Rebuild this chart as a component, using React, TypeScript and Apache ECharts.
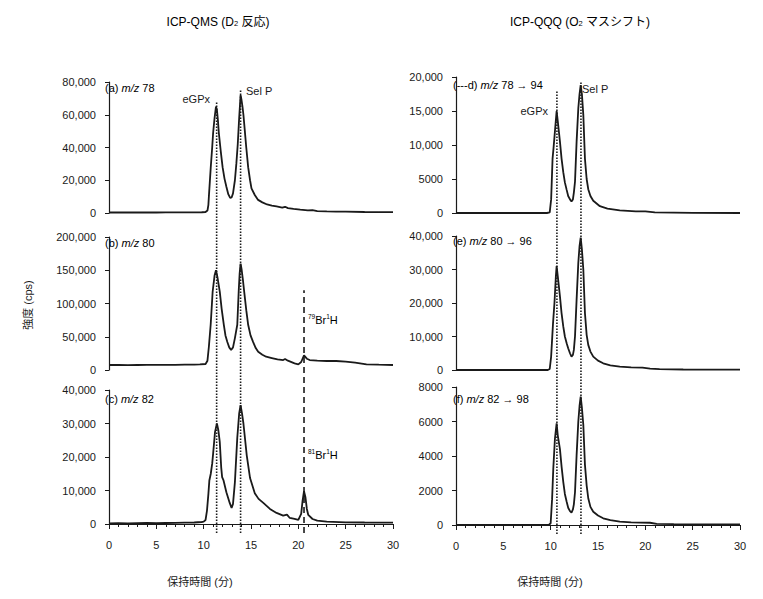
import React, { useEffect, useRef } from "react";
import * as echarts from "echarts";

// ---------- DATA (retention time [min], intensity [cps]) ----------
const qms78: number[][] = [
  [0, 300], [1, 350], [2, 300], [3, 350], [4, 320], [5, 300], [6, 350], [7, 330], [8, 380], [9, 400], [9.8, 450],
  [10.2, 600], [10.4, 1500], [10.5, 5000], [10.55, 10000], [10.65, 19000], [10.75, 28000], [10.9, 40000], [11.0, 49000],
  [11.15, 58000], [11.3, 65000], [11.4, 63000], [11.5, 57000], [11.6, 49000], [11.8, 38000], [12.0, 28000], [12.2, 21000],
  [12.4, 16000], [12.6, 11500], [12.8, 9200], [12.95, 9500], [13.1, 12000], [13.3, 20000], [13.45, 30000], [13.6, 42000],
  [13.75, 58000], [13.9, 72000], [14.0, 69000], [14.1, 65000], [14.2, 60000], [14.35, 50000], [14.5, 40000], [14.7, 28000],
  [14.9, 20000], [15.05, 15000], [15.4, 11000], [15.75, 8000], [16.2, 6500], [16.7, 5200], [17.2, 4500], [17.7, 4000],
  [18.3, 3300], [18.6, 3800], [18.9, 3000], [19.5, 2500], [20.2, 2000], [21, 1600], [21.5, 1700], [22, 1200], [23, 1000],
  [24, 900], [25, 800], [27, 600], [28.5, 550], [30, 500],
];
const qms80: number[][] = [
  [0, 7500], [1, 7600], [2, 7400], [3, 7500], [4, 7600], [5, 7700], [6, 7600], [7, 7800], [8, 8000], [9, 8200], [9.6, 8500],
  [10.2, 9000], [10.4, 14000], [10.55, 35000], [10.74, 68000], [10.95, 118000], [11.15, 142000], [11.3, 150000],
  [11.45, 140000], [11.7, 118000], [11.9, 92000], [12.13, 68000], [12.3, 52000], [12.5, 42000], [12.7, 34000], [12.9, 30000],
  [13.1, 34000], [13.3, 48000], [13.55, 68000], [13.7, 118000], [13.8, 145000], [13.9, 160000], [14.0, 152000],
  [14.15, 135000], [14.28, 118000], [14.5, 90000], [14.7, 68000], [14.95, 52000], [15.23, 42000], [15.5, 33000],
  [15.76, 27500], [16.2, 23000], [16.6, 20000], [17.2, 18000], [17.8, 16000], [18.4, 15000], [18.6, 16500], [18.9, 14000],
  [19.6, 10000], [20.0, 8500], [20.3, 12000], [20.6, 22000], [20.9, 17000], [21.2, 15000], [22, 14000], [23, 13500],
  [24, 13500], [25, 12500], [26, 11000], [27.2, 8500], [28.5, 8000], [30, 7500],
];
const qms82: number[][] = [
  [0, 200], [1, 250], [2, 200], [3, 250], [4, 300], [5, 250], [6, 300], [7, 350], [8, 400], [9, 450], [9.8, 600], [10.0, 700],
  [10.2, 1200], [10.35, 4000], [10.5, 9000], [10.6, 13000], [10.75, 15000], [10.9, 18000], [11.0, 21000], [11.2, 27500],
  [11.4, 30000], [11.55, 28000], [11.7, 24500], [11.85, 17000], [11.95, 14000], [12.1, 13000], [12.4, 9500], [12.75, 6300],
  [12.95, 4800], [13.1, 6000], [13.3, 12500], [13.55, 25700], [13.75, 33000], [13.9, 35500], [14.05, 33000], [14.2, 30000],
  [14.55, 20500], [14.9, 13700], [15.4, 9200], [15.8, 7500], [16.3, 6300], [17.0, 4500], [17.7, 3300], [18.4, 2500],
  [18.8, 2800], [19.1, 1800], [19.6, 1500], [20.0, 1200], [20.3, 3000], [20.45, 7000], [20.6, 9800], [20.75, 8000],
  [20.9, 4500], [21.05, 2700], [21.5, 1500], [22, 1000], [23, 700], [25, 500], [27, 450], [30, 400],
];
const qqq78to94: number[][] = [
  [0, 0], [2, 0], [4, 0], [6, 0], [8, 0], [9.6, 0], [9.9, 100], [10.05, 2000], [10.2, 8000], [10.3, 9500], [10.45, 12000],
  [10.63, 15000], [10.75, 13500], [10.98, 10500], [11.15, 8000], [11.33, 6000], [11.5, 4500], [11.69, 3400], [11.85, 2500],
  [12.04, 2000], [12.2, 1700], [12.35, 2000], [12.45, 3000], [12.57, 4600], [12.74, 10500], [12.92, 15400], [13.05, 17500],
  [13.17, 18800], [13.3, 17500], [13.45, 14400], [13.62, 8000], [13.8, 5000], [13.97, 3500], [14.2, 2500], [14.5, 1800],
  [15.2, 1000], [16, 650], [17.3, 400], [19, 250], [20, 250], [21, 100], [25, 30], [30, 0],
];
const qqq80to96: number[][] = [
  [0, 0], [3, 0], [6, 0], [9, 0], [9.7, 0], [9.9, 300], [10.05, 4000], [10.25, 14000], [10.4, 20000], [10.55, 28000],
  [10.63, 31000], [10.75, 28000], [10.98, 22000], [11.15, 17000], [11.33, 13000], [11.5, 10000], [11.69, 8000],
  [11.85, 6500], [12.04, 5000], [12.2, 4000], [12.35, 4500], [12.45, 6000], [12.57, 10000], [12.74, 21000], [12.92, 32000],
  [13.05, 37000], [13.17, 39500], [13.3, 36000], [13.45, 30000], [13.62, 17000], [13.8, 10500], [13.97, 7500], [14.2, 5500],
  [14.5, 4000], [15.0, 2800], [15.55, 2000], [16.3, 1400], [17.3, 1000], [18.5, 800], [19.7, 700], [20.5, 400],
  [21.5, 250], [24, 150], [27, 100], [30, 100],
];
const qqq82to98: number[][] = [
  [0, 0], [3, 0], [6, 0], [9, 0], [9.8, 0], [10.0, 100], [10.15, 1500], [10.28, 3300], [10.45, 5000], [10.55, 5500],
  [10.63, 5900], [10.75, 5200], [10.98, 4400], [11.15, 3400], [11.33, 2500], [11.5, 1800], [11.69, 1350], [11.85, 1000],
  [12.04, 800], [12.2, 720], [12.35, 900], [12.45, 1200], [12.57, 1900], [12.74, 4050], [12.92, 6000], [13.05, 6900],
  [13.17, 7450], [13.3, 6800], [13.45, 5800], [13.62, 3500], [13.8, 2300], [13.97, 1550], [14.2, 1050], [14.5, 770],
  [15.0, 550], [15.55, 390], [16.3, 280], [17.3, 190], [18.5, 150], [19.5, 140], [20.5, 130], [21.2, 70], [23, 50],
  [26, 40], [30, 40],
];

// y-axis maxima / steps per panel
const yMax = [80000, 200000, 40000, 20000, 40000, 8000];
const yStep = [20000, 50000, 10000, 5000, 10000, 2000];
const xTicks = [0, 5, 10, 15, 20, 25, 30];

// peak retention times
const qmsPeakTimes = [11.37, 13.9]; // eGPx, Sel P
const qmsBrTime = 20.6;
const qqqPeakTimes = [10.66, 13.2];

const panelLabels = [
  ["(a) ", "m/z", " 78"],
  ["(b) ", "m/z", " 80"],
  ["(c) ", "m/z", " 82"],
  ["(---d) ", "m/z", " 78 → 94"],
  ["(e) ", "m/z", " 80 → 96"],
  ["(f) ", "m/z", " 82 → 98"],
];

const FONT = '"Liberation Sans Narrow", "Liberation Sans", "Noto Sans CJK JP", sans-serif';
const INK = "#1a1a1a";

export default function App() {
  const ref = useRef<HTMLDivElement>(null);
  useEffect(() => {
    document.body.style.margin = "0";
    const chart = echarts.init(ref.current!, undefined, { renderer: "svg" });
    const series = [qms78, qms80, qms82, qqq78to94, qqq80to96, qqq82to98];

    const grids = [
      { left: 109, top: 82, width: 284, height: 131 },
      { left: 109, top: 237, width: 284, height: 133 },
      { left: 109, top: 390, width: 284, height: 134 },
      { left: 456, top: 77, width: 284, height: 136 },
      { left: 456, top: 236, width: 284, height: 134 },
      { left: 456, top: 387, width: 284, height: 138 },
      { left: 109, top: 80, width: 284, height: 453 },
      { left: 456, top: 80, width: 284, height: 454 },
    ];

    const fmt = (v: number) => (v >= 10000 ? v.toLocaleString("en-US") : String(v));

    const xAxes: any[] = grids.map((_, i) => {
      const bottom = i === 2 || i === 5;
      return {
        type: "value",
        gridIndex: i,
        min: xTicks[0],
        max: xTicks[xTicks.length - 1],
        interval: 5,
        show: bottom,
        offset: 9,
        axisLine: { show: true, lineStyle: { color: INK, width: 1.2 } },
        axisTick: { show: true, length: 5, lineStyle: { color: INK } },
        minorTick: { show: true, splitNumber: 5, length: 3, lineStyle: { color: INK } },
        splitLine: { show: false },
        minorSplitLine: { show: false },
        axisLabel: { color: INK, fontFamily: FONT, fontSize: 11, margin: 6 },
      };
    });

    const yAxes: any[] = grids.map((_, i) => {
      if (i >= 6) {
        return { type: "value", gridIndex: i, min: 0, max: 1, show: false };
      }
      return {
        type: "value",
        gridIndex: i,
        min: 0,
        max: yMax[i],
        interval: yStep[i],
        offset: 9,
        axisLine: { show: true, lineStyle: { color: INK, width: 1.2 } },
        axisTick: { show: true, length: 4, lineStyle: { color: INK } },
        splitLine: { show: false },
        axisLabel: { color: INK, fontFamily: FONT, fontSize: 11, margin: 4, formatter: fmt },
      };
    });

    const traceSeries = series.map((d, i) => ({
      type: "line",
      xAxisIndex: i,
      yAxisIndex: i,
      data: d,
      showSymbol: false,
      symbol: "none",
      clip: false,
      lineStyle: { color: INK, width: 1.8 },
      z: 3,
    }));

    const dotted = { color: INK, width: 1.6, type: [1.6, 1.4] };
    const dashed = { color: INK, width: 1.6, type: [6, 4] };
    const refLine = (grid: number, t: number, top: number, style: any) => ({
      type: "line",
      xAxisIndex: grid,
      yAxisIndex: grid,
      data: [
        [t, 0],
        [t, top],
      ],
      showSymbol: false,
      symbol: "none",
      lineStyle: style,
      z: 2,
    });
    const refSeries = [
      refLine(6, qmsPeakTimes[0], 0.951, dotted),
      refLine(6, qmsPeakTimes[1], 0.98, dotted),
      refLine(6, qmsBrTime, 0.536, dashed),
      refLine(7, qqqPeakTimes[0], 0.975, dotted),
      refLine(7, qqqPeakTimes[1], 0.995, dotted),
    ];

    const baseText = { fontFamily: FONT, fontSize: 11, fill: INK };
    const rich = {
      n: { fontFamily: FONT, fontSize: 11, color: INK, lineHeight: 13 },
      i: { fontFamily: FONT, fontSize: 11, color: INK, fontStyle: "italic", lineHeight: 13 },
      t: { fontFamily: FONT, fontSize: 12, color: INK, lineHeight: 15, verticalAlign: "bottom" },
      sub: { fontFamily: FONT, fontSize: 7.5, color: INK, lineHeight: 15, verticalAlign: "bottom" },
      sup: { fontFamily: FONT, fontSize: 6.5, color: INK, lineHeight: 13, verticalAlign: "top" },
    };
    const labelPos = [
      [105, 88], [105, 243], [105, 399], [453, 85], [453, 241], [453, 399],
    ];
    const graphics: any[] = [
      {
        type: "text", x: 218, y: 20,
        style: { text: "{t|ICP-QMS (D}{sub|2}{t| 反応)}", rich, align: "center", verticalAlign: "middle" },
      },
      {
        type: "text", x: 580, y: 20,
        style: { text: "{t|ICP-QQQ (O}{sub|2}{t| マスシフト)}", rich, align: "center", verticalAlign: "middle" },
      },
      ...panelLabels.map((p, i) => ({
        type: "text", x: labelPos[i][0], y: labelPos[i][1],
        style: { text: `{n|${p[0]}}{i|${p[1]}}{n|${p[2]}}`, rich, align: "left", verticalAlign: "middle" },
      })),
      { type: "text", x: 210, y: 99, style: { ...baseText, text: "eGPx", align: "right", verticalAlign: "middle" } },
      { type: "text", x: 246, y: 91, style: { ...baseText, text: "Sel P", align: "left", verticalAlign: "middle" } },
      { type: "text", x: 548, y: 111, style: { ...baseText, text: "eGPx", align: "right", verticalAlign: "middle" } },
      { type: "text", x: 582, y: 89, style: { ...baseText, text: "Sel P", align: "left", verticalAlign: "middle" } },
      {
        type: "text", x: 308, y: 320,
        style: { text: "{sup|79}{n|Br}{sup|1}{n|H}", rich, align: "left", verticalAlign: "middle" },
      },
      {
        type: "text", x: 308, y: 455,
        style: { text: "{sup|81}{n|Br}{sup|1}{n|H}", rich, align: "left", verticalAlign: "middle" },
      },
      { type: "text", x: 200, y: 582, style: { ...baseText, text: "保持時間 (分)", align: "center", verticalAlign: "middle" } },
      { type: "text", x: 550, y: 582, style: { ...baseText, text: "保持時間 (分)", align: "center", verticalAlign: "middle" } },
      {
        type: "text", x: 28, y: 305, rotation: Math.PI / 2,
        style: { ...baseText, text: "強度 (cps)", align: "center", verticalAlign: "middle" },
      },
    ];

    chart.setOption({
      animation: false,
      backgroundColor: "#ffffff",
      grid: grids,
      xAxis: xAxes,
      yAxis: yAxes,
      series: [...traceSeries, ...refSeries],
      graphic: graphics,
    });
    return () => chart.dispose();
  }, []);
  return <div ref={ref} style={{ width: 763, height: 599 }} />;
}
